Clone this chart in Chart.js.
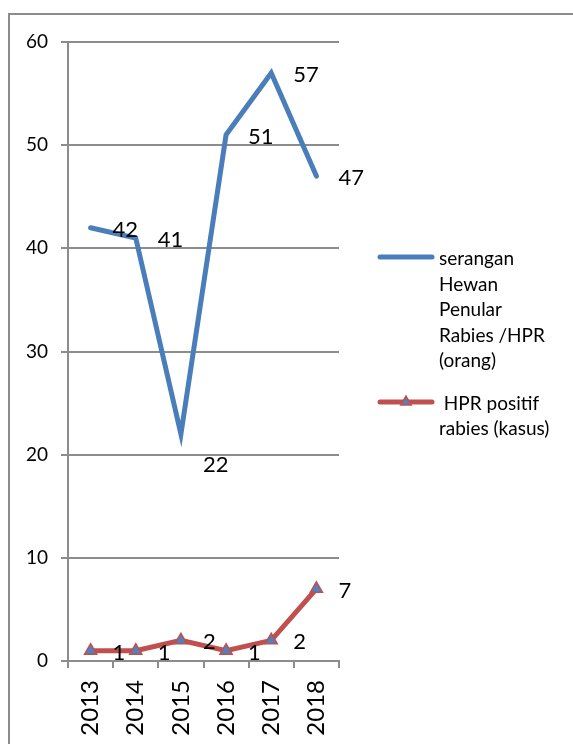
<!DOCTYPE html>
<html>
<head>
<meta charset="utf-8">
<script src="https://cdn.jsdelivr.net/npm/chart.js@4.4.0/dist/chart.umd.min.js"></script>
<style>
  body { margin: 0; background: #fff; }
  #wrap { position: relative; width: 573px; height: 744px; }
</style>
</head>
<body>
<div id="wrap"><canvas id="myChart"></canvas></div>
<script>
var years = ["2013", "2014", "2015", "2016", "2017", "2018"];
var serangan = [42, 41, 22, 51, 57, 47];
var positif = [1, 1, 2, 1, 2, 7];
var yTicks = [0, 10, 20, 30, 40, 50, 60];
var legendSerangan = ["serangan", "Hewan", "Penular", "Rabies /HPR", "(orang)"];
var legendPositif = [" HPR positif", "rabies (kasus)"];

var blue = "#4a7ebb";
var red = "#c0504d";
var gray = "#8c8c8c";

var extras = {
  id: "extras",
  beforeDraw: function (chart) {
    var c = chart.ctx;
    c.save();
    c.strokeStyle = gray;
    c.lineWidth = 2;
    c.beginPath();
    c.moveTo(9, 744);
    c.lineTo(9, 14);
    c.lineTo(573, 14);
    c.stroke();
    c.restore();
  },
  afterDatasetsDraw: function (chart) {
    var c = chart.ctx;
    c.save();
    // value labels, right of each point
    c.font = "22px Lato";
    c.fillStyle = "#000";
    c.textBaseline = "middle";
    c.textAlign = "left";
    chart.data.datasets.forEach(function (ds, i) {
      chart.getDatasetMeta(i).data.forEach(function (pt, j) {
        var dy = (i === 0 && j === 2) ? 31 : 2;
        c.fillText(ds.data[j], pt.x + 22, pt.y + dy);
      });
    });

    // legend
    c.lineCap = "round";
    c.lineWidth = 5;
    c.strokeStyle = blue;
    c.beginPath();
    c.moveTo(380, 257);
    c.lineTo(432, 257);
    c.stroke();
    c.strokeStyle = red;
    c.beginPath();
    c.moveTo(380, 402);
    c.lineTo(432, 402);
    c.stroke();
    c.fillStyle = "#4f81bd";
    c.strokeStyle = red;
    c.lineWidth = 1.5;
    Chart.helpers.drawPoint(c, { pointStyle: "triangle", radius: 6, rotation: 0, borderWidth: 1.5 }, 406, 402);

    c.font = "19px Lato";
    c.fillStyle = "#000";
    c.textBaseline = "alphabetic";
    legendSerangan.forEach(function (t, k) {
      c.fillText(t, 439, 265 + k * 25.5);
    });
    legendPositif.forEach(function (t, k) {
      c.fillText(t, 439, 410 + k * 25);
    });
    c.restore();
  }
};

var ctx = document.getElementById("myChart").getContext("2d");
var myChart = new Chart(ctx, {
  type: "line",
  data: {
    labels: years,
    datasets: [
      {
        label: "serangan Hewan Penular Rabies /HPR (orang)",
        data: serangan,
        borderColor: blue,
        backgroundColor: blue,
        borderWidth: 5,
        borderCapStyle: "round",
        pointRadius: 0,
        tension: 0,
      },
      {
        label: "HPR positif rabies (kasus)",
        data: positif,
        borderColor: red,
        backgroundColor: red,
        borderWidth: 5,
        borderCapStyle: "round",
        pointStyle: "triangle",
        pointRadius: 7,
        pointBackgroundColor: "#4f81bd",
        pointBorderColor: red,
        pointBorderWidth: 1.5,
        tension: 0,
      },
    ],
  },
  options: {
    responsive: true,
    maintainAspectRatio: false,
    animation: false,
    layout: { padding: { top: 42, right: 234, left: 0, bottom: 0 } },
    plugins: {
      legend: { display: false },
      tooltip: { enabled: false },
    },
    scales: {
      x: {
        offset: true,
        grid: { offset: true, drawOnChartArea: false, color: gray, lineWidth: 2, tickLength: 7 },
        border: { color: gray, width: 2 },
        ticks: {
          font: { family: "Lato", size: 24 },
          color: "#000",
          minRotation: 90,
          maxRotation: 90,
          padding: 12,
        },
        afterFit: function (s) {
          s.height = 83;
        },
      },
      y: {
        min: 0,
        max: 60,
        grid: { color: gray, lineWidth: 2, tickLength: 7 },
        border: { color: gray, width: 2 },
        ticks: {
          font: { family: "Lato", size: 19 },
          color: "#000",
          padding: 13,
        },
        afterBuildTicks: function (s) {
          s.ticks = yTicks.map(function (v) {
            return { value: v };
          });
        },
        afterFit: function (s) {
          s.width = 68;
        },
      },
    },
  },
  plugins: [extras],
});
</script>
</body>
</html>
